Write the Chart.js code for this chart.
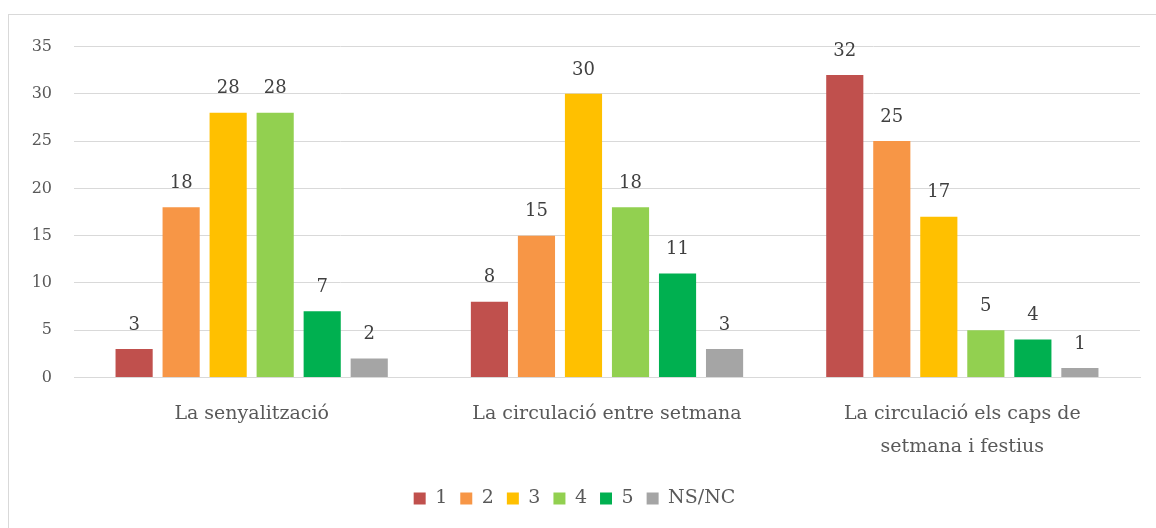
<!DOCTYPE html>
<html>
<head>
<meta charset="utf-8">
<script src="https://cdn.jsdelivr.net/npm/chart.js@4.4.1/dist/chart.umd.min.js"></script>
<style>
  html, body { margin: 0; padding: 0; background: #fff; overflow: hidden; }
  .frame {
    position: absolute; left: 8px; top: 14px;
    width: 1160px; height: 530px;
    border: 1px solid #d9d9d9;
  }
  .frame canvas { position: absolute; left: 0; top: 0; }
</style>
</head>
<body>
<div class="frame">
  <canvas id="chart" width="1147" height="513"></canvas>
</div>
<script>
// Dades del gràfic
const categories = [
  'La senyalització',
  'La circulació entre setmana',
  ['La circulació els caps de', 'setmana i festius']
];
const seriesNames = ['1', '2', '3', '4', '5', 'NS/NC'];
const valors1 = [3, 8, 32];
const valors2 = [18, 15, 25];
const valors3 = [28, 30, 17];
const valors4 = [28, 18, 5];
const valors5 = [7, 11, 4];
const valorsNSNC = [2, 3, 1];
const yTicks = [0, 5, 10, 15, 20, 25, 30, 35];

const colors = ['#c0504d', '#f79646', '#ffc000', '#92d050', '#00b050', '#a5a5a5'];
const allValues = [valors1, valors2, valors3, valors4, valors5, valorsNSNC];

const FONT = "'DejaVu Serif', 'Liberation Serif', serif";

// etiquetes de valor sobre les barres
const valueLabels = {
  id: 'valueLabels',
  afterDatasetsDraw(chart) {
    const ctx = chart.ctx;
    ctx.save();
    ctx.font = '18px ' + FONT;
    ctx.fillStyle = '#404040';
    ctx.textAlign = 'center';
    ctx.textBaseline = 'middle';
    chart.data.datasets.forEach((ds, i) => {
      chart.getDatasetMeta(i).data.forEach((bar, j) => {
        ctx.fillText(ds.data[j], bar.x, bar.y - 24);
      });
    });
    ctx.restore();
  }
};

new Chart(document.getElementById('chart'), {
  type: 'bar',
  data: {
    labels: categories,
    datasets: seriesNames.map((name, i) => ({
      label: name,
      data: allValues[i],
      backgroundColor: colors[i],
      borderWidth: 0,
      categoryPercentage: 0.794,
      barPercentage: 0.79
    }))
  },
  options: {
    responsive: false,
    animation: false,
    layout: { padding: { left: 0, right: 16, top: 25, bottom: 10 } },
    plugins: {
      tooltip: { enabled: false },
      legend: {
        position: 'bottom',
        labels: {
          boxWidth: 12,
          boxHeight: 12,
          padding: 13,
          color: '#595959',
          font: { family: FONT, size: 19 }
        }
      }
    },
    scales: {
      x: {
        grid: { display: false },
        border: { display: true, color: '#d9d9d9', width: 1 },
        ticks: {
          color: '#595959',
          font: { family: FONT, size: 19, lineHeight: 1.7 },
          padding: 13,
          maxRotation: 0
        }
      },
      y: {
        min: 0,
        max: 35,
        afterFit(scale) { scale.width = 65; },
        afterBuildTicks(scale) { scale.ticks = yTicks.map(v => ({ value: v })); },
        grid: { color: '#d9d9d9', lineWidth: 1, drawTicks: false },
        border: { display: false },
        ticks: {
          color: '#595959',
          font: { family: FONT, size: 16 },
          padding: 22
        }
      }
    }
  },
  plugins: [valueLabels]
});
</script>
</body>
</html>
